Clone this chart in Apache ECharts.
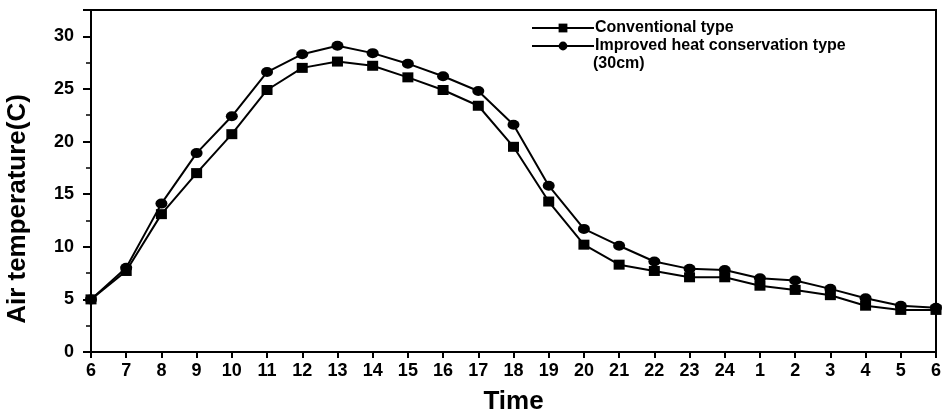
<!DOCTYPE html>
<html>
<head>
<meta charset="utf-8">
<script src="https://cdn.jsdelivr.net/npm/echarts@6/dist/echarts.min.js"></script>
<style>
html,body{margin:0;padding:0;background:#fff;}
#chart{width:952px;height:413px;}
</style>
</head>
<body>
<div id="chart"></div>
<script>
const timeLabels = ['6','7','8','9','10','11','12','13','14','15','16','17','18','19','20','21','22','23','24','1','2','3','4','5','6'];
const conventional = [5.0,7.7,13.1,17.0,20.7,24.9,27.0,27.6,27.2,26.1,24.9,23.4,19.5,14.3,10.2,8.3,7.7,7.1,7.1,6.3,5.9,5.4,4.4,4.0,4.0];
const improved = [5.0,8.0,14.1,18.9,22.4,26.6,28.3,29.1,28.4,27.4,26.2,24.8,21.6,15.8,11.7,10.1,8.6,7.9,7.8,7.0,6.8,6.0,5.1,4.4,4.2];
const seriesNames = ['Conventional type','Improved heat conservation type'];
const legendExtra = '(30cm)';
const yTitle = 'Air temperature(C)';
const xTitle = 'Time';

const font = '"Liberation Sans", Arial, sans-serif';
const chart = echarts.init(document.getElementById('chart'), null, {renderer:'canvas'});
chart.setOption({
  animation:false,
  backgroundColor:'#fff',
  grid:{left:91,right:16,top:10,bottom:61,outerBoundsMode:'none',containLabel:false,show:true,borderColor:'#000',borderWidth:2,backgroundColor:'transparent'},
  legend:{
    left:526,top:14,orient:'vertical',itemGap:0,itemWidth:62,itemHeight:11,
    textStyle:{fontFamily:font,fontWeight:'bold',fontSize:16,lineHeight:18,color:'#000',padding:[0,0,0,-4]},
    data:[{name:seriesNames[0]},{name:seriesNames[1]}]
  },
  graphic:[{type:'text',left:593,top:56,style:{text:legendExtra,font:'bold 16px '+font,fill:'#000'}}],
  xAxis:{
    type:'category',data:timeLabels,boundaryGap:false,
    name:xTitle,nameLocation:'middle',nameGap:37,
    nameTextStyle:{fontFamily:font,fontWeight:'bold',fontSize:26,color:'#000'},
    axisLine:{lineStyle:{color:'#000',width:2}},
    axisTick:{show:true,length:6,lineStyle:{color:'#000',width:2},alignWithLabel:true},
    axisLabel:{interval:0,margin:10,fontFamily:font,fontWeight:'bold',fontSize:18,color:'#000'},
    splitLine:{show:false}
  },
  yAxis:{
    type:'value',min:0,max:32.5,interval:5,
    name:yTitle,nameLocation:'middle',nameGap:60,
    nameTextStyle:{fontFamily:font,fontWeight:'bold',fontSize:26,color:'#000',padding:[0,56,0,0]},
    axisLine:{show:true,lineStyle:{color:'#000',width:2}},
    axisTick:{show:true,length:8,lineStyle:{color:'#000',width:2}},
    minorTick:{show:true,splitNumber:2,length:5,lineStyle:{color:'#000',width:1.5}},
    axisLabel:{showMaxLabel:false,margin:17,fontFamily:font,fontWeight:'bold',fontSize:18,color:'#000'},
    splitLine:{show:false}
  },
  series:[
    {name:seriesNames[0],type:'line',data:conventional,symbol:'rect',symbolSize:[11,10],
     lineStyle:{color:'#000',width:2},itemStyle:{color:'#000'}},
    {name:seriesNames[1],type:'line',data:improved,symbol:'circle',symbolSize:[12,10],
     lineStyle:{color:'#000',width:2},itemStyle:{color:'#000'}}
  ]
});
</script>
</body>
</html>
